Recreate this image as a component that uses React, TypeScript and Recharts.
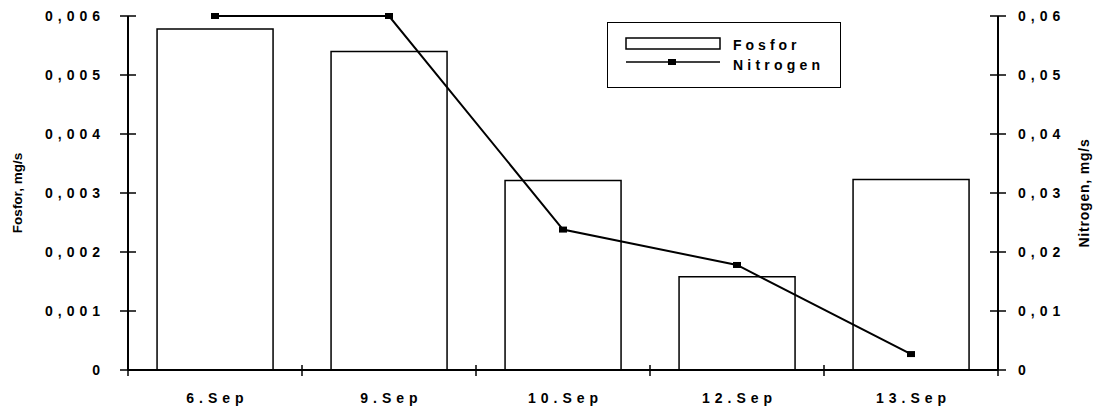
import React from 'react';
import { ComposedChart, Bar, Line, XAxis, YAxis, Legend } from 'recharts';

// values
const dates = ['6.Sep', '9.Sep', '10.Sep', '12.Sep', '13.Sep'];
const fosfor = [0.00578, 0.0054, 0.00321, 0.00158, 0.00323];
const nitrogen = [0.06, 0.06, 0.0238, 0.0178, 0.0027];
const fosforTicks = [0, 0.001, 0.002, 0.003, 0.004, 0.005, 0.006];
const nitrogenTicks = [0, 0.01, 0.02, 0.03, 0.04, 0.05, 0.06];

const data = dates.map((d, i) => ({ date: d, fosfor: fosfor[i], nitrogen: nitrogen[i] }));

const FONT = '"Liberation Sans", Arial, sans-serif';
const BAND = 174;

const fmtTick = (v: number, digits: number) => (v === 0 ? '0' : v.toFixed(digits).replace('.', ','));

const LeftTick = (props: any) => {
    const { x, y, payload } = props;
    return (
        <g>
            <line x1={x - 8} x2={x + 8} y1={y} y2={y} stroke="#000" strokeWidth={1.5} />
            <text x={x - 23} y={y} dy={5} textAnchor="end" fontSize={14} fontWeight="bold" letterSpacing={5} fill="#000" fontFamily={FONT}>
                {fmtTick(payload.value, 3)}
            </text>
        </g>
    );
};

const RightTick = (props: any) => {
    const { x, y, payload } = props;
    return (
        <g>
            <line x1={x - 8} x2={x + 8} y1={y} y2={y} stroke="#000" strokeWidth={1.5} />
            <text x={x + 20} y={y} dy={5} textAnchor="start" fontSize={14} fontWeight="bold" letterSpacing={5} fill="#000" fontFamily={FONT}>
                {fmtTick(payload.value, 2)}
            </text>
        </g>
    );
};

const BottomTick = (props: any) => {
    const { x, y, payload, index } = props;
    const last = index === dates.length - 1;
    return (
        <g>
            <line x1={x - BAND / 2} x2={x - BAND / 2} y1={y - 5} y2={y + 6} stroke="#000" strokeWidth={1.5} />
            {last && <line x1={x + BAND / 2} x2={x + BAND / 2} y1={y - 5} y2={y + 6} stroke="#000" strokeWidth={1.5} />}
            <text x={x} y={y} dx={2.5} dy={33} textAnchor="middle" fontSize={14} fontWeight="bold" letterSpacing={5} fill="#000" fontFamily={FONT}>
                {payload.value}
            </text>
        </g>
    );
};

const Marker = (props: any) => {
    const { cx, cy } = props;
    if (cx == null || cy == null) return null;
    return <rect x={cx - 4} y={cy - 3} width={8} height={6} fill="#000" />;
};

const LegendBox = () => (
    <div style={{ width: 234, height: 66, border: '1px solid #000', background: '#fff', boxSizing: 'border-box' }}>
        <svg width={232} height={64} style={{ display: 'block' }}>
            <rect x={18} y={15} width={94} height={11} fill="#fff" stroke="#000" strokeWidth={1.5} />
            <text x={125} y={27} fontSize={14} fontWeight="bold" letterSpacing={4} fontFamily={FONT} fill="#000">Fosfor</text>
            <line x1={18} x2={112} y1={39} y2={39} stroke="#000" strokeWidth={1.5} />
            <rect x={60} y={36} width={8} height={6} fill="#000" />
            <text x={125} y={47} fontSize={14} fontWeight="bold" letterSpacing={4.2} fontFamily={FONT} fill="#000">Nitrogen</text>
        </svg>
    </div>
);

export default function App() {
    return (
        <div style={{ position: 'absolute', left: 0, top: 0, width: 1098, height: 411, background: '#fff' }}>
            <ComposedChart
                width={1098}
                height={411}
                data={data}
                margin={{ top: 16, right: 0, left: 0, bottom: 0 }}
                barCategoryGap="16.7%"
            >
                <XAxis
                    dataKey="date"
                    height={41}
                    axisLine={{ stroke: '#000', strokeWidth: 2 }}
                    tickLine={false}
                    tickSize={0}
                    tickMargin={0}
                    tick={<BottomTick />}
                    interval={0}
                />
                <YAxis
                    yAxisId="left"
                    width={128}
                    domain={[0, 0.006]}
                    ticks={fosforTicks}
                    axisLine={{ stroke: '#000', strokeWidth: 2 }}
                    tickLine={false}
                    tickSize={0}
                    tickMargin={0}
                    tick={<LeftTick />}
                    interval={0}
                    label={{
                        value: 'Fosfor, mg/s',
                        angle: -90,
                        position: 'insideLeft',
                        offset: 17,
                        style: { fontSize: 13.5, fontWeight: 'bold', fontFamily: FONT, fill: '#000', textAnchor: 'middle' },
                    }}
                />
                <YAxis
                    yAxisId="right"
                    orientation="right"
                    width={100}
                    domain={[0, 0.06]}
                    ticks={nitrogenTicks}
                    axisLine={{ stroke: '#000', strokeWidth: 2 }}
                    tickLine={false}
                    tickSize={0}
                    tickMargin={0}
                    tick={<RightTick />}
                    interval={0}
                    label={{
                        value: 'Nitrogen, mg/s',
                        angle: -90,
                        position: 'insideRight',
                        offset: 14,
                        style: { fontSize: 14, fontWeight: 'bold', fontFamily: FONT, fill: '#000', textAnchor: 'middle', letterSpacing: 0.8 },
                    }}
                />
                <Legend
                    layout="vertical"
                    align="center"
                    verticalAlign="middle"
                    content={<LegendBox />}
                    wrapperStyle={{ position: 'absolute', left: 607, top: 22, width: 234, height: 66 }}
                />
                <Bar
                    yAxisId="left"
                    dataKey="fosfor"
                    name="Fosfor"
                    fill="#fff"
                    stroke="#000"
                    strokeWidth={1.5}
                    isAnimationActive={false}
                />
                <Line
                    yAxisId="right"
                    dataKey="nitrogen"
                    name="Nitrogen"
                    type="linear"
                    stroke="#000"
                    strokeWidth={2}
                    dot={<Marker />}
                    activeDot={false}
                    isAnimationActive={false}
                />
            </ComposedChart>
        </div>
    );
}
